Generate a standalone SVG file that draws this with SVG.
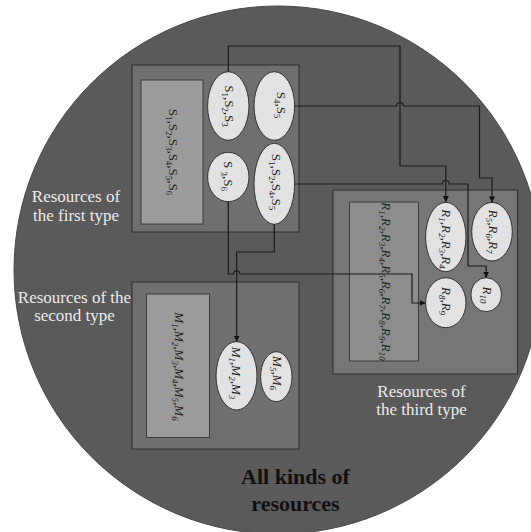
<svg xmlns="http://www.w3.org/2000/svg" width="531" height="532" viewBox="0 0 531 532">
<defs>
<style>
.outer{fill:#6f6f6f;stroke:#2e2e2e;stroke-width:1}
.inner{fill:#9b9b9b;stroke:#3a3a3a;stroke-width:1}
.inner3{fill:#8d8d8d;stroke:#3a3a3a;stroke-width:1}
.outer3{fill:#767676;stroke:#2e2e2e;stroke-width:1}
.el{fill:#e2e2e2;stroke:#333;stroke-width:1}
.t{font-family:"Liberation Serif","DejaVu Serif",serif;font-size:13px;fill:#222;text-anchor:middle}
.it{font-style:italic}
.s{font-size:9px}
.lbl{font-family:"Liberation Serif","DejaVu Serif",serif;font-size:17px;fill:#ececec;text-anchor:middle}
.big{font-family:"Liberation Serif","DejaVu Serif",serif;font-size:22px;font-weight:bold;fill:#111;text-anchor:middle}
.c{fill:none;stroke:#1a1a1a;stroke-width:1.2}
</style>
<marker id="ar" markerUnits="userSpaceOnUse" markerWidth="8" markerHeight="8" refX="6" refY="3" orient="auto">
<path d="M0,0 L6,3 L0,6 z" fill="#111"/>
</marker>
</defs>
<rect width="531" height="532" fill="#ffffff"/>
<circle cx="278" cy="270" r="264" fill="#5a5a5a" stroke="#4a4a4a" stroke-width="1"/>

<g id="first-type">
<rect class="outer" x="132" y="65" width="167" height="167"/>
<rect class="inner" x="141" y="80" width="62" height="144"/>
<text class="t" transform="translate(172.5,152) rotate(90)" y="3.5">S<tspan class="s" dy="3">1</tspan><tspan dy="-3">,S</tspan><tspan class="s" dy="3">2</tspan><tspan dy="-3">,S</tspan><tspan class="s" dy="3">3</tspan><tspan dy="-3">,S</tspan><tspan class="s" dy="3">4</tspan><tspan dy="-3">,S</tspan><tspan class="s" dy="3">5</tspan><tspan dy="-3">,S</tspan><tspan class="s" dy="3">6</tspan></text>
<text class="lbl" x="76" y="202">Resources of</text>
<text class="lbl" x="76" y="221">the first type</text>
</g>
<g id="s123">
<ellipse class="el" cx="228.3" cy="106" rx="20.7" ry="34.3"/>
<text class="t" transform="translate(228.5,106) rotate(90)" y="3.5">S<tspan class="s" dy="3">1</tspan><tspan dy="-3">,S</tspan><tspan class="s" dy="3">2</tspan><tspan dy="-3">,S</tspan><tspan class="s" dy="3">3</tspan></text>
</g>
<g id="s45">
<ellipse class="el" cx="274.3" cy="106" rx="20.3" ry="34.3"/>
<text class="t" transform="translate(280,105) rotate(90)" y="3.5">S<tspan class="s" dy="3">4</tspan><tspan dy="-3">,S</tspan><tspan class="s" dy="3">5</tspan></text>
</g>
<g id="s36">
<ellipse class="el" cx="228.3" cy="177" rx="20.7" ry="24.7"/>
<text class="t" transform="translate(227.5,176) rotate(90)" y="3.5">S <tspan class="s" dy="3">3</tspan><tspan dy="-3">,S</tspan><tspan class="s" dy="3">6</tspan></text>
</g>
<g id="s1245">
<ellipse class="el" cx="274.3" cy="183.8" rx="20.3" ry="40.5"/>
<text class="t" transform="translate(275,182) rotate(90)" y="3.5">S<tspan class="s" dy="3">1</tspan><tspan dy="-3">,S</tspan><tspan class="s" dy="3">2</tspan><tspan dy="-3">,S</tspan><tspan class="s" dy="3">4</tspan><tspan dy="-3">,S</tspan><tspan class="s" dy="3">5</tspan></text>
</g>

<g id="second-type">
<rect class="outer" x="132" y="282" width="167" height="167"/>
<rect class="inner" x="146.5" y="294" width="63" height="143.5"/>
<text class="t it" transform="translate(178,366.5) rotate(90)" y="3.5">M<tspan class="s" dy="3">1</tspan><tspan dy="-3">,M</tspan><tspan class="s" dy="3">2</tspan><tspan dy="-3">,M</tspan><tspan class="s" dy="3">3</tspan><tspan dy="-3">,M</tspan><tspan class="s" dy="3">4</tspan><tspan dy="-3">,M</tspan><tspan class="s" dy="3">5</tspan><tspan dy="-3">,M</tspan><tspan class="s" dy="3">6</tspan></text>
<text class="lbl" x="74.5" y="303">Resources of the</text>
<text class="lbl" x="74.5" y="321">second type</text>
</g>
<g id="m123">
<ellipse class="el" cx="236.5" cy="375.8" rx="20.5" ry="34.2"/>
<text class="t it" transform="translate(235.5,373) rotate(90)" y="3.5">M<tspan class="s" dy="3">1</tspan><tspan dy="-3">,M</tspan><tspan class="s" dy="3">2</tspan><tspan dy="-3">,M</tspan><tspan class="s" dy="3">3</tspan></text>
</g>
<g id="m56">
<ellipse class="el" cx="276.3" cy="376.7" rx="15.7" ry="25"/>
<text class="t it" transform="translate(276.5,373) rotate(90)" y="3.5">M<tspan class="s" dy="3">5</tspan><tspan dy="-3">,M</tspan><tspan class="s" dy="3">6</tspan></text>
</g>

<g id="third-type">
<rect class="outer3" x="333" y="190" width="184.5" height="184"/>
<rect class="inner3" x="349.5" y="202" width="69" height="159"/>
<text class="t it" transform="translate(385,281.5) rotate(90)" y="3.5">R<tspan class="s" dy="3">1</tspan><tspan dy="-3">,R</tspan><tspan class="s" dy="3">2</tspan><tspan dy="-3">,R</tspan><tspan class="s" dy="3">3</tspan><tspan dy="-3">,R</tspan><tspan class="s" dy="3">4</tspan><tspan dy="-3">,R</tspan><tspan class="s" dy="3">5</tspan><tspan dy="-3">,R</tspan><tspan class="s" dy="3">6</tspan><tspan dy="-3">,R</tspan><tspan class="s" dy="3">7</tspan><tspan dy="-3">,R</tspan><tspan class="s" dy="3">8</tspan><tspan dy="-3">,R</tspan><tspan class="s" dy="3">9</tspan><tspan dy="-3">,R</tspan><tspan class="s" dy="3">10</tspan></text>
<text class="lbl" x="421.5" y="397">Resources of</text>
<text class="lbl" x="421.5" y="415">the third type</text>
</g>
<g id="r1234">
<ellipse class="el" cx="445.8" cy="237" rx="20.2" ry="34.7"/>
<text class="t it" transform="translate(445,239) rotate(90)" y="3.5">R<tspan class="s" dy="3">1</tspan><tspan dy="-3">,R</tspan><tspan class="s" dy="3">2</tspan><tspan dy="-3">,R</tspan><tspan class="s" dy="3">3</tspan><tspan dy="-3">,R</tspan><tspan class="s" dy="3">4</tspan></text>
</g>
<g id="r567">
<ellipse class="el" cx="492" cy="231.7" rx="20.3" ry="29.3"/>
<text class="t it" transform="translate(492.5,231.7) rotate(90)" y="3.5">R<tspan class="s" dy="3">5</tspan><tspan dy="-3">,R</tspan><tspan class="s" dy="3">6</tspan><tspan dy="-3">,R</tspan><tspan class="s" dy="3">7</tspan></text>
</g>
<g id="r89">
<ellipse class="el" cx="445.8" cy="302.7" rx="20.2" ry="25"/>
<text class="t it" transform="translate(445,301) rotate(90)" y="3.5">R<tspan class="s" dy="3">8</tspan><tspan dy="-3">,R</tspan><tspan class="s" dy="3">9</tspan></text>
</g>
<g id="r10">
<ellipse class="el" cx="486.2" cy="294.7" rx="15.2" ry="17"/>
<text class="t it" transform="translate(486.5,295) rotate(90)" y="3.5">R<tspan class="s" dy="3">10</tspan></text>
</g>

<g id="all-kinds">
<text class="big" x="295.5" y="484">All kinds of</text>
<text class="big" x="295.5" y="511">resources</text>
</g>

<g id="connectors">
<path class="c" d="M228.3,71.7 V46 H400 V166 H445.8 V202" marker-end="url(#ar)"/>
<path class="c" d="M294.6,106 H396.5 a3.5,3.5 0 0 1 7,0 H479.5 V178 H492 V202.4" marker-end="url(#ar)"/>
<path class="c" d="M294.6,184 H442.3 a3.5,3.5 0 0 1 7,0 H468 V266 H486.2 V277.7" marker-end="url(#ar)"/>
<path class="c" d="M228.3,201.7 V274 H233.5 a3.2,3.2 0 0 1 6.4,0 H412 V303 H425.6" marker-end="url(#ar)"/>
<path class="c" d="M274.3,224.3 V252 H236.7 V341.6" marker-end="url(#ar)"/>
</g>
</svg>
